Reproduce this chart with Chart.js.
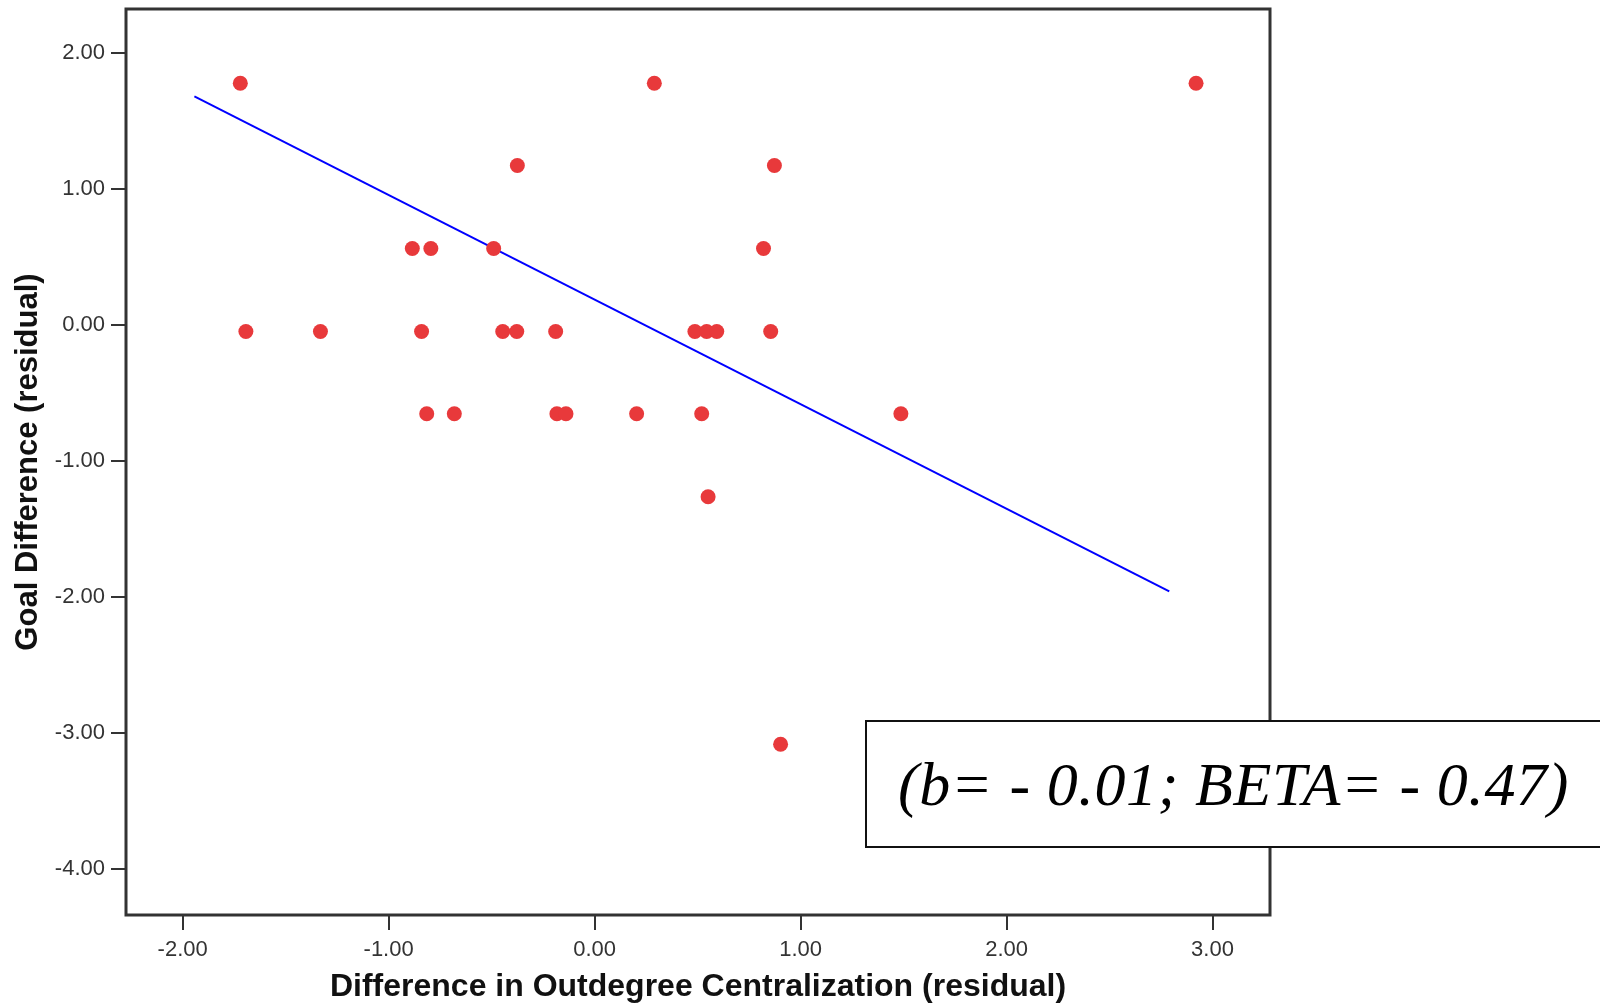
<!DOCTYPE html>
<html>
<head>
<meta charset="utf-8">
<script src="https://cdn.jsdelivr.net/npm/chart.js@4"></script>
<style>
  body { margin: 0; background: #fff; overflow: hidden; }
  #wrap { position: relative; width: 1600px; height: 1006px; overflow: hidden; }
  #note {
    position: absolute; left: 865px; top: 720px; width: 760px; height: 124px;
    border: 2px solid #111; background: #fff; box-sizing: content-box;
    font-family: 'Liberation Serif', 'Times New Roman', serif; font-style: italic;
    font-size: 62px; letter-spacing: 0.6px; line-height: 124px; padding-left: 31px;
    white-space: nowrap; color: #000;
  }
</style>
</head>
<body>
<div id="wrap">
  <canvas id="c" width="1600" height="1006"></canvas>
  <div id="note">(b= - 0.01; BETA= - 0.47)</div>
</div>
<script>
// scatter points
const xValues = [-1.72, 0.29, 2.92, -0.375, 0.873, -0.885, -0.795, -0.49, 0.82,
  -1.693, -1.331, -0.84, -0.446, -0.378, -0.189, 0.487, 0.544, 0.593, 0.855,
  -0.815, -0.681, -0.183, -0.139, 0.204, 0.52, 1.487, 0.551, 0.903];
const yValues = [1.78, 1.78, 1.78, 1.175, 1.175, 0.565, 0.565, 0.565, 0.565,
  -0.045, -0.045, -0.045, -0.045, -0.045, -0.045, -0.045, -0.045, -0.045, -0.045,
  -0.65, -0.65, -0.65, -0.65, -0.65, -0.65, -0.65, -1.26, -3.08];

// fit line end points
const fitX = [-1.943, 2.79];
const fitY = [1.684, -1.957];

const xTicks = [-2, -1, 0, 1, 2, 3];
const yTicks = [-4, -3, -2, -1, 0, 1, 2];

const FONT = "'Liberation Sans', Arial, sans-serif";

const frame = {
  id: 'frame',
  afterDraw(chart) {
    const { ctx, chartArea: a } = chart;
    ctx.save();
    ctx.strokeStyle = '#333';
    ctx.lineWidth = 3;
    ctx.strokeRect(a.left, a.top, a.right - a.left, a.bottom - a.top);
    ctx.restore();
  }
};

const tickOpts = (vals) => ({
  afterBuildTicks: (s) => { s.ticks = vals.map((v) => ({ value: v })); }
});

new Chart(document.getElementById('c').getContext('2d'), {
  type: 'scatter',
  data: {
    datasets: [
      {
        data: xValues.map((x, i) => ({ x, y: yValues[i] })),
        backgroundColor: '#E8393B',
        borderWidth: 0,
        pointRadius: 7.5,
        pointHoverRadius: 7.5
      },
      {
        data: fitX.map((x, i) => ({ x, y: fitY[i] })),
        showLine: true,
        borderColor: '#0000FF',
        borderWidth: 2,
        pointRadius: 0,
        fill: false
      }
    ]
  },
  options: {
    responsive: false,
    animation: false,
    layout: { padding: { left: 0, top: 9, right: 330, bottom: 0 } },
    plugins: { legend: { display: false }, tooltip: { enabled: false } },
    scales: {
      x: {
        min: -2.275, max: 3.279,
        ...tickOpts(xTicks),
        afterFit: (s) => { s.height = 91; s.paddingLeft = 0; s.paddingRight = 0; },
        grid: { drawOnChartArea: false, tickLength: 15, color: '#333', lineWidth: 2 },
        border: { display: false },
        ticks: { padding: 7, color: '#333', font: { family: FONT, size: 22 }, callback: (v) => v.toFixed(2), maxRotation: 0 },
        title: { display: true, text: 'Difference in Outdegree Centralization (residual)', color: '#111',
          font: { family: FONT, size: 32, weight: 'bold' }, padding: { top: 0, bottom: 0 } }
      },
      y: {
        min: -4.336, max: 2.326,
        ...tickOpts(yTicks),
        afterFit: (s) => { s.width = 126; s.paddingTop = 0; s.paddingBottom = 0; },
        grid: { drawOnChartArea: false, tickLength: 15, color: '#333', lineWidth: 2 },
        border: { display: false },
        ticks: { padding: 6, color: '#333', font: { family: FONT, size: 22 }, callback: (v) => v.toFixed(2) },
        title: { display: true, text: 'Goal Difference (residual)', color: '#111',
          font: { family: FONT, size: 31, weight: 'bold' }, padding: { top: 10, bottom: 0 } }
      }
    }
  },
  plugins: [frame]
});
</script>
</body>
</html>
